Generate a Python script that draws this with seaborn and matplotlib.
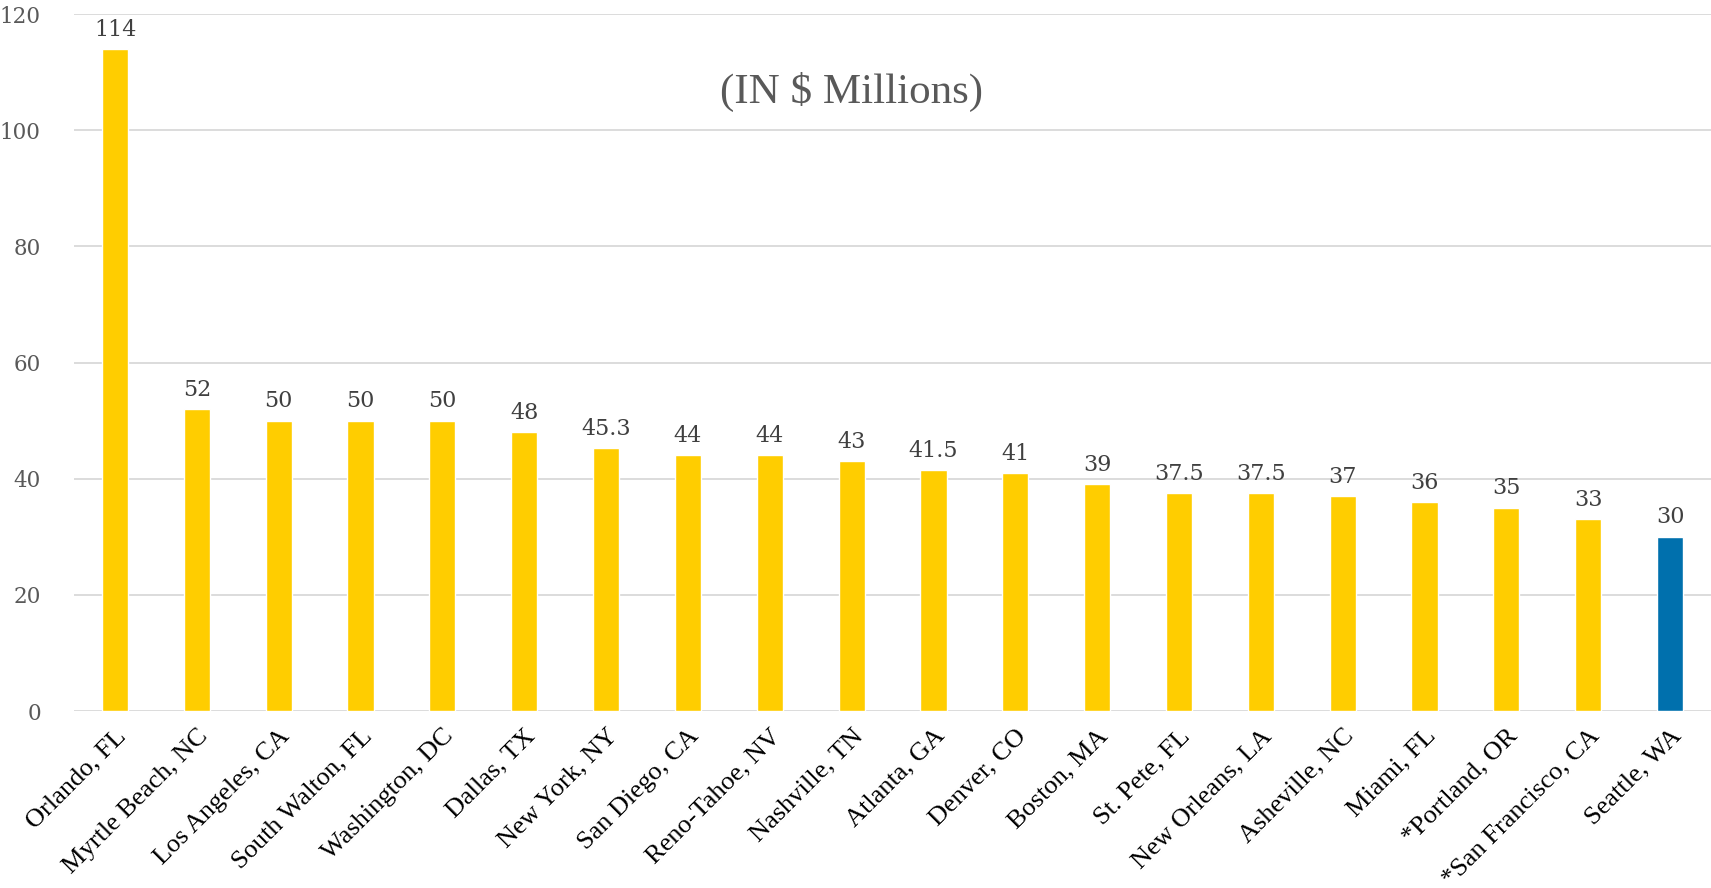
import matplotlib
matplotlib.use("Agg")
import matplotlib.pyplot as plt
import seaborn as sns
import pandas as pd

cities = ["Orlando, FL", "Myrtle Beach, NC", "Los Angeles, CA", "South Walton, FL",
          "Washington, DC", "Dallas, TX", "New York, NY", "San Diego, CA",
          "Reno-Tahoe, NV", "Nashville, TN", "Atlanta, GA", "Denver, CO",
          "Boston, MA", "St. Pete, FL", "New Orleans, LA", "Asheville, NC",
          "Miami, FL", "*Portland, OR", "*San Francisco, CA", "Seattle, WA"]
values = [114, 52, 50, 50, 50, 48, 45.3, 44, 44, 43, 41.5, 41, 39, 37.5, 37.5,
          37, 36, 35, 33, 30]
value_labels = ["114", "52", "50", "50", "50", "48", "45.3", "44", "44", "43",
                "41.5", "41", "39", "37.5", "37.5", "37", "36", "35", "33", "30"]
yticks = [0, 20, 40, 60, 80, 100, 120]

YELLOW = "#FFCD00"
BLUE = "#0070AD"
groups = ["Seattle" if c == "Seattle, WA" else "Other" for c in cities]
df = pd.DataFrame({"city": cities, "value": values, "group": groups})

sns.set_theme(style="white")
plt.rcParams["font.family"] = ["Liberation Serif", "DejaVu Serif"]

fig = plt.figure(figsize=(17.11, 8.88), dpi=100)
ax = fig.add_axes([0.0433, 0.1993, 0.9567, 0.7849])

sns.barplot(data=df, x="city", y="value", hue="group",
            palette={"Other": YELLOW, "Seattle": BLUE},
            dodge=False, width=0.32, legend=False, ax=ax, saturation=1)

ax.set_ylim(0, 120)
ax.set_xlim(-0.5, len(cities) - 0.5)
ax.set_yticks(yticks)
ax.set_yticklabels([str(t) for t in yticks], fontsize=15.5, color="#595959",
                   family="DejaVu Serif")
ax.yaxis.grid(True, color="#D9D9D9", linewidth=1.3)
ax.set_axisbelow(True)
ax.tick_params(axis="y", length=0, pad=24)
ax.tick_params(axis="x", length=0, pad=10)
ax.set_xlabel("")
ax.set_ylabel("")
for s in ax.spines.values():
    s.set_visible(False)

ax.set_xticks(range(len(cities)))
ax.set_xticklabels(cities, rotation=45, ha="right", rotation_mode="anchor",
                   fontsize=19, color="black")

for i, (v, lab) in enumerate(zip(values, value_labels)):
    ax.annotate(lab, (i, v), xytext=(0, 6), textcoords="offset points",
                ha="center", va="bottom", fontsize=16, color="#404040",
                family="DejaVu Serif")

ax.text(0.475, 0.888, "(IN $ Millions)", transform=ax.transAxes, ha="center",
        va="center", fontsize=31, color="#595959")

fig.savefig("out.png", dpi=100)
